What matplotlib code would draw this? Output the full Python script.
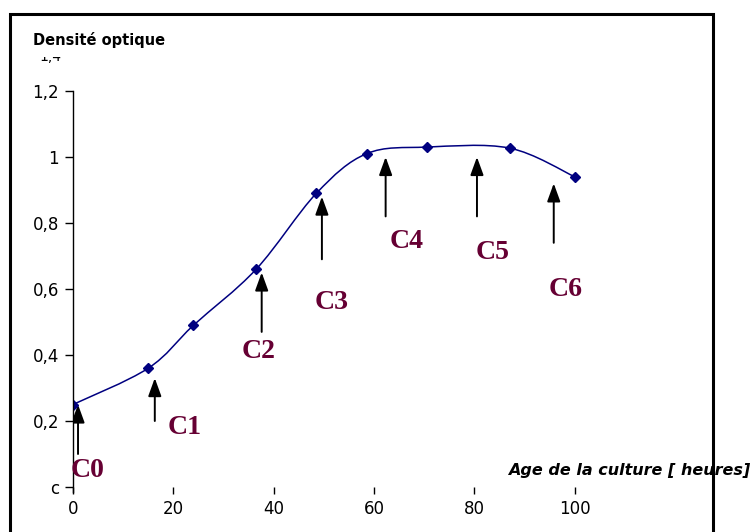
import matplotlib
matplotlib.use('agg')
import matplotlib.pyplot as plt
import numpy as np
from matplotlib.path import Path
from matplotlib.patches import PathPatch, Rectangle, FancyArrowPatch
from matplotlib.transforms import Bbox

# données : âge de la culture (heures) et densité optique
age = [0, 15, 24, 36.5, 48.5, 58.5, 70.5, 87, 100]
densite = [0.25, 0.36, 0.49, 0.66, 0.89, 1.01, 1.03, 1.027, 0.94]

# flèches des prélèvements C0..C6 : (x, bas, pointe) et position des étiquettes
noms = ['C0', 'C1', 'C2', 'C3', 'C4', 'C5', 'C6']
fleche_x = [1, 16.3, 37.6, 49.6, 62.3, 80.5, 95.8]
fleche_bas = [0.10, 0.20, 0.47, 0.69, 0.82, 0.82, 0.74]
fleche_haut = [0.25, 0.33, 0.65, 0.88, 1.00, 1.00, 0.92]
label_x = [2.9, 22.3, 36.9, 51.6, 66.5, 83.7, 98.2]
label_y = [0.05, 0.18, 0.41, 0.56, 0.745, 0.71, 0.60]

yticks = [0, 0.2, 0.4, 0.6, 0.8, 1, 1.2]
ytick_labels = ['c', '0,2', '0,4', '0,6', '0,8', '1', '1,2']
xticks = [0, 20, 40, 60, 80, 100]

fig = plt.figure(figsize=(7.5, 5.32), dpi=100)
ax = fig.add_axes([73 / 750, 45 / 532, 552 / 750, 396 / 532])
ax.set_xlim(0, 110)
ax.set_ylim(0, 1.2)

# courbe lissée (Catmull-Rom -> Bézier), comme le lissage d'Excel
pts = np.column_stack([age, densite])
ext = np.vstack([pts[0], pts, pts[-1]])
verts = [tuple(pts[0])]
codes = [Path.MOVETO]
for i in range(len(pts) - 1):
    p0, p1, p2, p3 = ext[i], ext[i + 1], ext[i + 2], ext[i + 3]
    c1 = p1 + (p2 - p0) / 6
    c2 = p2 - (p3 - p1) / 6
    verts += [tuple(c1), tuple(c2), tuple(p2)]
    codes += [Path.CURVE4] * 3
ax.add_patch(PathPatch(Path(verts, codes), fill=False, edgecolor='#000080', lw=1.1))
ax.plot(age, densite, linestyle='none', marker='D', markersize=5, color='#000080')

# flèches et étiquettes
for i, nom in enumerate(noms):
    ax.add_patch(FancyArrowPatch((fleche_x[i], fleche_bas[i]), (fleche_x[i], fleche_haut[i]),
                                 arrowstyle='-|>,head_length=1.1,head_width=0.4',
                                 mutation_scale=10, color='black', lw=1.4,
                                 shrinkA=0, shrinkB=0))
    ax.text(label_x[i], label_y[i], nom, color='#660033', fontsize=20, fontweight='bold',
            family='Liberation Serif', ha='center', va='center')

# axes
for s in ['top', 'right', 'bottom']:
    ax.spines[s].set_visible(False)
ax.spines['left'].set_bounds(-0.015, 1.2)
ax.spines['left'].set_linewidth(1.0)
ax.set_yticks(yticks)
ax.set_yticklabels(ytick_labels)
ax.set_xticks(xticks)
ax.tick_params(axis='y', direction='out', length=6, width=1, labelsize=12, pad=4)
ax.tick_params(axis='x', direction='out', length=5, width=1, labelsize=12, pad=4)

# titres
fig.text(33 / 750, 1 - 40 / 532, 'Densité optique', fontsize=10.5, fontweight='bold',
         ha='left', va='center')
fig.text(508 / 750, 1 - 470 / 532, 'Age de la culture [ heures]', fontsize=11.5,
         fontweight='bold', style='italic', ha='left', va='center')

# "1,4" tronqué en haut de l'axe (seul le bas des chiffres est visible)
t = fig.text(50 / 750, 1 - 57 / 532, '1,4', fontsize=10, ha='center', va='center')
t.set_clip_box(Bbox.from_extents(0, 532 - 64, 750, 532 - 57))
t.set_clip_on(True)

# cadre
fig.patches.append(Rectangle((10 / 750, -0.1), 703 / 750, 1.1 - 14 / 532,
                             transform=fig.transFigure, fill=False,
                             edgecolor='black', lw=2.2, zorder=10))

fig.savefig('out.png', dpi=100)
